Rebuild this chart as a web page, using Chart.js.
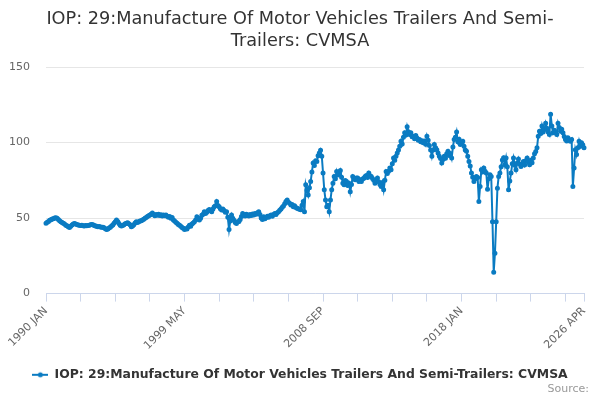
<!DOCTYPE html>
<html>
<head>
<meta charset="utf-8">
<script src="https://cdn.jsdelivr.net/npm/chart.js@4.4.1/dist/chart.umd.min.js"></script>
<style>
  html, body { margin: 0; padding: 0; background: #fff; }
  #wrap { width: 600px; height: 400px; }
</style>
</head>
<body>
<div id="wrap"><canvas id="chart" width="600" height="400"></canvas></div>
<script>
const startYear = 1990;
const monthNames = ["JAN", "FEB", "MAR", "APR", "MAY", "JUN", "JUL", "AUG", "SEP", "OCT", "NOV", "DEC"];
const tickLabels = ["1990 JAN", "1999 MAY", "2008 SEP", "2018 JAN", "2026 APR"];
const seriesName = "IOP: 29:Manufacture Of Motor Vehicles Trailers And Semi-Trailers: CVMSA";

// monthly index values
const values1990s = [
  46.5, 47.2, 47.8, 48.5, 48.9, 49.3, 49.6, 50.0, 50.2, 49.8, 49.0, 48.2,
  47.5, 47.0, 46.6, 46.0, 45.3, 44.9, 44.2, 43.8, 44.6, 45.4, 46.0, 46.4,
  46.1, 45.8, 45.4, 45.3, 45.0, 45.2, 44.9, 44.8, 45.0, 44.9, 45.1, 45.3,
  45.6, 45.8, 45.5, 45.1, 44.8, 44.6, 44.2, 44.4, 44.1, 43.9, 44.0, 43.6,
  43.0, 42.4, 42.8, 43.5, 44.0, 44.7, 45.4, 46.5, 47.6, 48.7, 47.8, 46.4,
  45.3, 44.7, 45.0, 45.6, 46.2, 46.6, 46.9, 46.3, 45.5, 44.2, 44.8, 45.6,
  46.8, 47.5, 47.0, 47.6, 48.1, 48.3, 48.7, 49.2, 49.8, 50.4, 51.0, 51.6,
  52.0, 52.6, 53.3, 52.4, 51.6, 52.3, 51.8, 52.5, 51.7, 52.2, 51.4, 52.0,
  51.5, 52.1, 51.2, 50.6, 51.0, 49.8, 50.3, 48.7, 48.0, 47.2, 46.5, 45.8,
  45.3, 44.6, 43.8, 43.2, 42.4, 43.0, 42.8, 44.1, 45.3, 44.6, 46.0, 46.8
];
const values2000s = [
  47.5, 48.8, 50.9, 49.6, 48.7, 49.9, 51.8, 52.6, 54.2, 53.1, 53.8, 55.0,
  55.6, 54.8, 54.2, 56.0, 57.5, 58.1, 60.9, 58.3, 57.5, 56.2, 55.4, 56.0,
  55.0, 53.8, 54.2, 50.5, 42.4, 48.0, 52.0, 49.8, 48.5, 47.1, 46.4, 47.5,
  47.8, 49.1, 51.0, 53.1, 52.2, 51.4, 52.6, 52.0, 51.3, 52.4, 51.7, 52.7,
  52.0, 53.0, 52.5, 53.6, 54.2, 52.3, 50.0, 49.1, 50.8, 49.5, 50.4, 51.2,
  50.6, 51.5, 52.0, 51.2, 52.4, 53.0, 52.3, 53.5, 54.2, 55.1, 56.0, 57.2,
  58.0, 59.5, 61.0, 62.0, 60.5, 59.8, 58.6, 59.0, 57.5, 58.2, 57.0, 56.5,
  56.2, 55.8, 55.5, 58.5, 60.9, 54.2, 72.0, 68.4, 65.3, 70.1, 74.2, 80.5,
  86.4, 84.8, 88.0, 87.5, 91.2, 93.0, 94.9, 90.9, 79.8, 68.7, 62.0, 57.5,
  58.5, 54.2, 62.0, 68.7, 73.0, 77.5, 76.0, 80.9, 78.5, 79.6, 81.5, 77.0
];
const values2010s = [
  73.1, 72.0, 74.8, 74.2, 71.5, 73.0, 67.5, 72.2, 77.5, 76.0, 75.3, 76.5,
  76.5, 74.2, 75.4, 74.2, 75.8, 76.3, 77.5, 78.2, 76.9, 79.8, 78.0, 77.5,
  76.2, 75.0, 73.1, 74.8, 76.5, 74.0, 72.3, 70.9, 73.5, 68.7, 75.0, 80.9,
  79.5, 81.0, 83.1, 82.0, 86.0, 89.8, 88.2, 91.0, 93.1, 95.0, 97.5, 100.9,
  99.0, 103.5, 106.5, 105.0, 110.4, 107.2, 105.3, 106.4, 103.8, 104.2, 102.5, 104.7,
  103.0, 101.5, 102.0, 100.6, 101.2, 99.8, 101.0, 98.8, 104.2, 101.5, 98.0, 95.0,
  90.9, 95.0, 98.7, 96.5, 95.2, 93.1, 91.0, 89.5, 86.4, 88.8, 90.9, 89.6,
  92.5, 94.2, 91.5, 92.8, 89.8, 97.0, 102.0, 103.5, 106.9, 100.5, 102.2, 98.7,
  99.5, 100.9, 97.5, 95.0, 94.2, 91.0, 87.5, 84.5, 79.8, 77.0, 74.2, 76.0,
  77.5, 76.8, 60.9, 70.9, 82.0, 80.5, 83.1, 81.0, 79.8, 69.1, 76.0, 78.7
];
const values2020s = [
  77.5, 47.5, 14.2, 26.7, 47.5, 69.8, 77.5, 79.8, 84.0, 88.4, 90.0, 85.3,
  89.8, 84.0, 68.7, 74.5, 79.8, 86.0, 89.8, 85.0, 82.0, 86.5, 89.1, 85.8,
  84.2, 86.0, 87.5, 85.2, 88.0, 89.8, 87.0, 85.3, 88.2, 86.6, 89.8, 92.5,
  94.0, 96.5, 104.2, 107.5, 106.0, 110.9, 107.0, 108.7, 112.7, 109.5, 107.0, 105.3,
  118.7, 111.0, 106.5, 108.2, 107.0, 105.3, 112.7, 110.0, 107.5, 108.8, 106.5, 104.0,
  102.0, 101.0, 103.1, 101.5, 100.9, 102.0, 70.9, 83.1, 95.3, 92.0, 96.5, 100.9,
  97.5, 99.8, 98.5, 96.5
];

const values = [...values1990s, ...values2000s, ...values2010s, ...values2020s];
const categories = values.map((v, i) => (startYear + Math.floor(i / 12)) + " " + monthNames[i % 12]);
const lastIndex = categories.length - 1;

const lineColor = "#0a7bc2";
const fontFamily = "'DejaVu Sans', sans-serif";

// legend symbol: short line with a dot in the middle
const legendIcon = document.createElement("canvas");
legendIcon.width = 16;
legendIcon.height = 8;
const ictx = legendIcon.getContext("2d");
ictx.strokeStyle = lineColor;
ictx.lineWidth = 2;
ictx.beginPath();
ictx.moveTo(0, 4);
ictx.lineTo(16, 4);
ictx.stroke();
ictx.fillStyle = lineColor;
ictx.beginPath();
ictx.arc(8, 4, 2.5, 0, Math.PI * 2);
ictx.fill();

const sourcePlugin = {
  id: "sourceText",
  afterDraw(chart) {
    const ctx = chart.ctx;
    ctx.save();
    ctx.font = "11px " + fontFamily;
    ctx.fillStyle = "#999";
    ctx.textAlign = "right";
    ctx.textBaseline = "middle";
    ctx.fillText("Source:", 589, 389);
    ctx.restore();
  },
};

new Chart(document.getElementById("chart"), {
  type: "line",
  data: {
    labels: categories,
    datasets: [
      {
        label: seriesName,
        data: values,
        borderColor: lineColor,
        backgroundColor: lineColor,
        borderWidth: 2,
        pointRadius: 1.5,
        pointHoverRadius: 3,
        tension: 0,
      },
    ],
  },
  options: {
    responsive: false,
    animation: false,
    layout: { padding: { left: 0, right: 0, top: 0, bottom: 9 } },
    plugins: {
      title: {
        display: true,
        text: ["IOP: 29:Manufacture Of Motor Vehicles Trailers And Semi-", "Trailers: CVMSA"],
        color: "#333",
        font: { size: 17.7, family: fontFamily, weight: "normal", lineHeight: 1.243 },
        padding: { top: 8, bottom: 15 },
      },
      legend: {
        position: "bottom",
        labels: {
          color: "#333",
          font: { size: 12.4, family: fontFamily, weight: "bold" },
          usePointStyle: true,
          pointStyleWidth: 16,
          padding: 8,
          generateLabels: (chart) => [
            {
              text: seriesName,
              pointStyle: legendIcon,
              fillStyle: lineColor,
              strokeStyle: lineColor,
              fontColor: "#333",
              datasetIndex: 0,
            },
          ],
        },
      },
      tooltip: { enabled: false },
    },
    scales: {
      x: {
        type: "category",
        offset: false,
        afterBuildTicks: (axis) => {
          axis.ticks = axis.ticks.filter((t) => t.value % 28 === 0 || t.value === lastIndex);
        },
        afterFit: (axis) => {
          axis.height = 67;
        },
        grid: { drawOnChartArea: false, drawTicks: true, tickLength: 8, color: "#ccd6eb" },
        border: { color: "#ccd6eb" },
        ticks: {
          autoSkip: false,
          minRotation: 45,
          maxRotation: 45,
          color: "#666",
          font: { size: 11, family: fontFamily },
          callback: (value) => (tickLabels.includes(categories[value]) ? categories[value] : ""),
        },
      },
      y: {
        min: 0,
        max: 150,
        afterFit: (axis) => {
          axis.width = 46;
        },
        grid: { color: "#e6e6e6", drawTicks: false },
        border: { display: false },
        ticks: {
          stepSize: 50,
          padding: 16,
          color: "#666",
          font: { size: 11, family: fontFamily },
        },
      },
      // empty right-hand axis, only keeps a 16px margin so title and legend stay centred on the page
      spacer: {
        type: "linear",
        position: "right",
        afterFit: (axis) => {
          axis.width = 16;
        },
        grid: { display: false },
        border: { display: false },
        ticks: { display: false },
      },
    },
  },
  plugins: [sourcePlugin],
});
</script>
</body>
</html>
